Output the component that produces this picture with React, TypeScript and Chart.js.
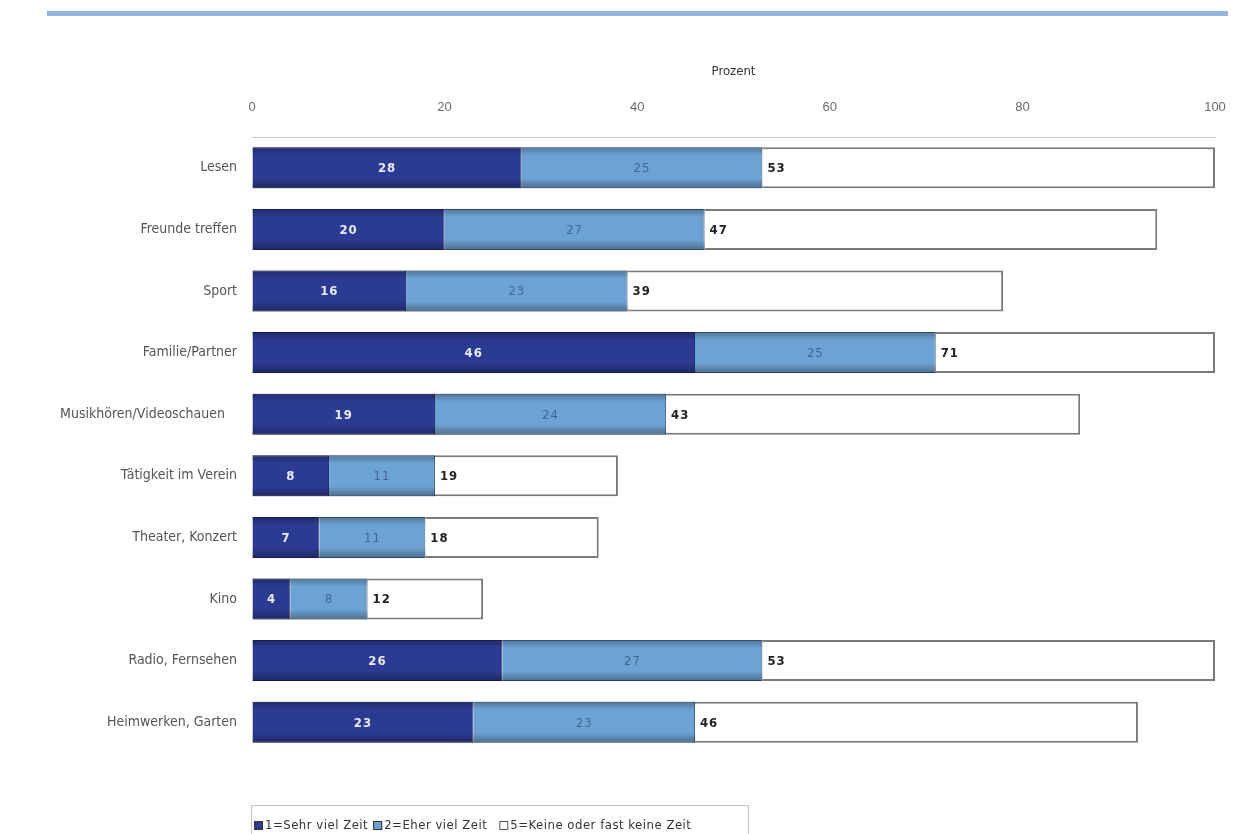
import React, { useEffect, useRef } from "react";
import { Chart, registerables } from "chart.js";

Chart.register(...registerables);

const categories = [
  "Lesen",
  "Freunde treffen",
  "Sport",
  "Familie/Partner",
  "Musikhören/Videoschauen   ",
  "Tätigkeit im Verein",
  "Theater, Konzert",
  "Kino",
  "Radio, Fernsehen",
  "Heimwerken, Garten",
];
const sehrViel = [28, 20, 16, 46, 19, 8, 7, 4, 26, 23];
const eherViel = [25, 27, 23, 25, 24, 11, 11, 8, 27, 23];
const keineZeit = [47, 47, 39, 29, 43, 19, 18, 12, 47, 46];
const seriesLabels = ["1=Sehr viel Zeit", "2=Eher viel Zeit", "5=Keine oder fast keine Zeit"];
const xTicks = [0, 20, 40, 60, 80, 100];
const axisTitle = "Prozent";

const DARK = "#2c3b92";
const LIGHT = "#6da3d4";
const FONT = "'DejaVu Sans Condensed', 'DejaVu Sans', sans-serif";

export default function App() {
  const ref = useRef<HTMLCanvasElement | null>(null);

  useEffect(() => {
    document.body.style.margin = "0";
    const canvas = ref.current;
    if (!canvas) return;

    const decoPlugin = {
      id: "deco",
      beforeDraw(chart: any) {
        const ctx = chart.ctx;
        ctx.save();
        ctx.fillStyle = "#fff";
        ctx.fillRect(0, 0, chart.width, chart.height);
        ctx.fillStyle = "#93b5dc";
        ctx.fillRect(47, 11, 1181, 5);
        ctx.restore();
      },
      afterDatasetsDraw(chart: any) {
        const ctx = chart.ctx;
        ctx.save();
        [0, 1].forEach((di) => {
          const meta = chart.getDatasetMeta(di);
          meta.data.forEach((el: any) => {
            const h = el.height;
            const top = el.y - h / 2;
            const left = Math.min(el.x, el.base);
            const w = Math.abs(el.x - el.base);
            const g = ctx.createLinearGradient(0, top, 0, top + h);
            g.addColorStop(0, "rgba(0,0,0,0.28)");
            g.addColorStop(0.2, "rgba(0,0,0,0.0)");
            g.addColorStop(0.75, "rgba(0,0,0,0.0)");
            g.addColorStop(1, "rgba(0,0,0,0.32)");
            ctx.fillStyle = g;
            ctx.fillRect(left, top, w, h);
          });
        });
        const m0 = chart.getDatasetMeta(0);
        const m1 = chart.getDatasetMeta(1);
        ctx.textBaseline = "middle";
        (ctx as any).letterSpacing = "1px";
        ctx.font = `bold 13px ${FONT}`;
        m0.data.forEach((el: any, i: number) => {
          ctx.fillStyle = "#e8ecf8";
          ctx.textAlign = "center";
          ctx.fillText(String(sehrViel[i]), (el.x + el.base) / 2, el.y + 1);
        });
        m1.data.forEach((el: any, i: number) => {
          ctx.fillStyle = "#3f6790";
          ctx.textAlign = "center";
          ctx.font = `13px ${FONT}`;
          ctx.fillText(String(eherViel[i]), (el.x + el.base) / 2, el.y + 1);
          ctx.fillStyle = "#222";
          ctx.textAlign = "left";
          ctx.font = `bold 13px ${FONT}`;
          ctx.fillText(String(sehrViel[i] + eherViel[i]), el.x + 5, el.y + 1);
        });
        (ctx as any).letterSpacing = "0px";
        ctx.restore();
      },
      afterDraw(chart: any) {
        const ctx = chart.ctx;
        ctx.save();
        (ctx as any).letterSpacing = "0px";
        const left = chart.chartArea.left - 1;
        const top = 805;
        ctx.strokeStyle = "#c4c4c4";
        ctx.lineWidth = 1;
        ctx.strokeRect(left + 0.5, top + 0.5, 497, 40);
        ctx.textBaseline = "middle";
        ctx.textAlign = "left";
        ctx.font = `13px ${FONT}`;
        (ctx as any).letterSpacing = "0.5px";
        const colors = [DARK, LIGHT, "#fff"];
        const cy = 826;
        let x = left + 3;
        seriesLabels.forEach((lab, i) => {
          ctx.fillStyle = colors[i];
          ctx.fillRect(x, cy - 5, 9, 9);
          ctx.strokeStyle = i === 2 ? "#555" : "#333";
          ctx.strokeRect(x + 0.5, cy - 4.5, 8, 8);
          ctx.fillStyle = "#333";
          ctx.fillText(lab, x + 11, cy);
          x += 11 + ctx.measureText(lab).width + (i === 1 ? 12 : 5);
        });
        (ctx as any).letterSpacing = "0px";
        ctx.restore();
      },
    };

    const chart = new Chart(canvas, {
      type: "bar",
      data: {
        labels: categories,
        datasets: [
          {
            label: seriesLabels[0],
            data: sehrViel,
            backgroundColor: DARK,
            borderColor: "#1e2868",
            borderWidth: 1,
          },
          {
            label: seriesLabels[1],
            data: eherViel,
            backgroundColor: LIGHT,
            borderColor: "#3d5f86",
            borderWidth: 1,
          },
          {
            label: seriesLabels[2],
            data: keineZeit,
            backgroundColor: "#ffffff",
            borderColor: "#7a7a7a",
            borderWidth: 2,
          },
        ],
      },
      options: {
        indexAxis: "y",
        animation: false,
        responsive: true,
        maintainAspectRatio: false,
        layout: { padding: { left: 0, right: 20, top: 0, bottom: 81 } },
        plugins: {
          legend: { display: false },
          tooltip: { enabled: false },
          title: { display: false },
        },
        scales: {
          x: {
            position: "top",
            stacked: true,
            min: 0,
            max: 100,
            afterBuildTicks: (scale: any) => {
              scale.ticks = xTicks.map((v) => ({ value: v }));
            },
            afterFit: (scale: any) => {
              scale.height = 137;
              scale.paddingLeft = 0;
              scale.paddingRight = 0;
            },
            grid: { drawOnChartArea: false, drawTicks: false },
            border: { display: true, color: "#c8c8c8", width: 1 },
            ticks: {
              color: "#6a6a6a",
              font: { family: "'Liberation Sans', Arial, sans-serif", size: 13 },
              padding: 22,
            },
            title: {
              display: true,
              text: axisTitle,
              color: "#333",
              font: { family: FONT, size: 13 },
              padding: { top: 64, bottom: 0 },
            },
          },
          y: {
            stacked: true,
            afterFit: (scale: any) => {
              scale.width = 252;
            },
            grid: { display: false, drawTicks: false },
            border: { display: false },
            ticks: {
              color: "#555",
              font: { family: FONT, size: 14 },
              padding: 15,
            },
          },
        },
        datasets: {
          bar: { categoryPercentage: 1, barPercentage: 0.665 },
        } as any,
      },
      plugins: [decoPlugin],
    } as any);

    return () => chart.destroy();
  }, []);

  return (
    <div style={{ position: "absolute", left: 0, top: 0, width: 1235, height: 834 }}>
      <canvas ref={ref} />
    </div>
  );
}
